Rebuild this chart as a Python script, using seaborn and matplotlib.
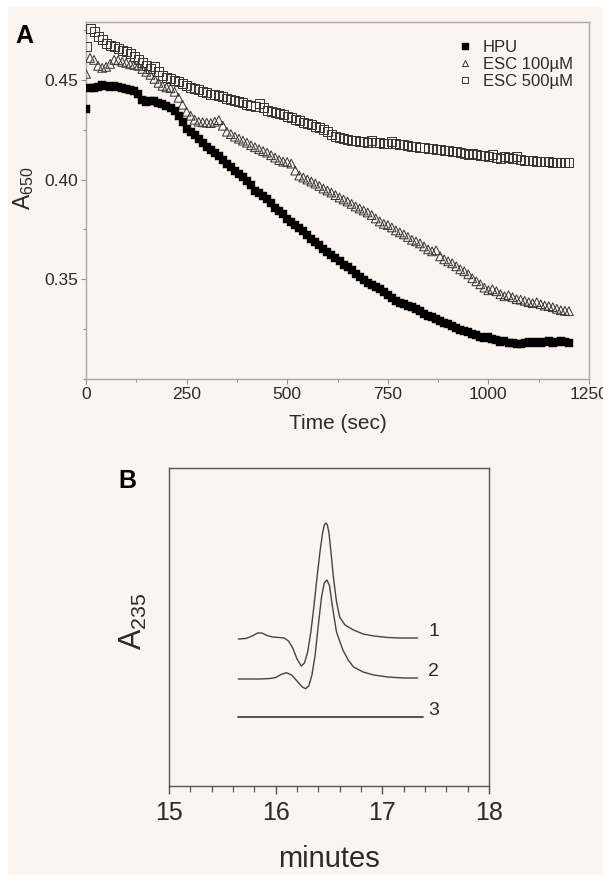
import matplotlib
matplotlib.use("Agg")
import matplotlib.pyplot as plt
from matplotlib.lines import Line2D
from matplotlib.patches import Rectangle
from matplotlib.ticker import MultipleLocator, FormatStrFormatter
import seaborn as sns
import pandas as pd

# ---------------- Panel A data ----------------
time_sec = list(range(0, 1201, 10))

hpu = [0.4355, 0.4458, 0.4460, 0.4462, 0.4475, 0.4470, 0.4465, 0.4468, 0.4462, 0.4458,
       0.4455, 0.4450, 0.4445, 0.4430, 0.4400, 0.4390, 0.4395, 0.4392, 0.4385, 0.4378,
       0.4370, 0.4360, 0.4345, 0.4320, 0.4290, 0.4255, 0.4240, 0.4225, 0.4205, 0.4185,
       0.4165, 0.4150, 0.4135, 0.4120, 0.4100, 0.4080, 0.4062, 0.4045, 0.4030, 0.4015,
       0.3995, 0.3975, 0.3945, 0.3932, 0.3920, 0.3905, 0.3880, 0.3855, 0.3840, 0.3825,
       0.3800, 0.3785, 0.3770, 0.3755, 0.3740, 0.3720, 0.3700, 0.3685, 0.3670, 0.3650,
       0.3635, 0.3620, 0.3605, 0.3590, 0.3570, 0.3560, 0.3545, 0.3528, 0.3510, 0.3495,
       0.3480, 0.3472, 0.3462, 0.3450, 0.3435, 0.3420, 0.3405, 0.3390, 0.3382, 0.3375,
       0.3365, 0.3360, 0.3350, 0.3340, 0.3325, 0.3315, 0.3310, 0.3300, 0.3290, 0.3280,
       0.3275, 0.3265, 0.3258, 0.3245, 0.3240, 0.3235, 0.3225, 0.3220, 0.3210, 0.3205,
       0.3210, 0.3200, 0.3195, 0.3185, 0.3190, 0.3182, 0.3178, 0.3175, 0.3175, 0.3180,
       0.3185, 0.3182, 0.3188, 0.3180, 0.3185, 0.3190, 0.3178, 0.3188, 0.3192, 0.3185,
       0.3183]

esc100 = [0.4530, 0.4610, 0.4600, 0.4570, 0.4560, 0.4565, 0.4580, 0.4600, 0.4598, 0.4590,
          0.4585, 0.4578, 0.4575, 0.4570, 0.4555, 0.4540, 0.4525, 0.4505, 0.4485, 0.4470,
          0.4462, 0.4458, 0.4440, 0.4410, 0.4375, 0.4340, 0.4320, 0.4300, 0.4290, 0.4287,
          0.4285, 0.4283, 0.4290, 0.4298, 0.4270, 0.4240, 0.4228, 0.4215, 0.4205, 0.4195,
          0.4185, 0.4172, 0.4162, 0.4152, 0.4143, 0.4135, 0.4122, 0.4110, 0.4098, 0.4090,
          0.4088, 0.4080, 0.4045, 0.4020, 0.4010, 0.4000, 0.3990, 0.3980, 0.3968, 0.3955,
          0.3945, 0.3935, 0.3922, 0.3910, 0.3900, 0.3890, 0.3878, 0.3865, 0.3855, 0.3845,
          0.3835, 0.3822, 0.3805, 0.3790, 0.3778, 0.3772, 0.3760, 0.3745, 0.3735, 0.3725,
          0.3712, 0.3698, 0.3690, 0.3680, 0.3665, 0.3650, 0.3640, 0.3645, 0.3615, 0.3600,
          0.3590, 0.3580, 0.3565, 0.3550, 0.3540, 0.3525, 0.3505, 0.3490, 0.3475, 0.3458,
          0.3445, 0.3450, 0.3440, 0.3425, 0.3415, 0.3420, 0.3410, 0.3400, 0.3398, 0.3392,
          0.3385, 0.3380, 0.3385, 0.3375, 0.3368, 0.3365, 0.3360, 0.3352, 0.3345, 0.3342,
          0.3340]

esc500 = [0.4665, 0.4755, 0.4740, 0.4715, 0.4700, 0.4680, 0.4672, 0.4668, 0.4655, 0.4645,
          0.4640, 0.4630, 0.4615, 0.4600, 0.4585, 0.4570, 0.4558, 0.4565, 0.4540, 0.4520,
          0.4510, 0.4505, 0.4498, 0.4492, 0.4480, 0.4470, 0.4460, 0.4455, 0.4450, 0.4440,
          0.4435, 0.4428, 0.4425, 0.4420, 0.4415, 0.4408, 0.4400, 0.4395, 0.4390, 0.4385,
          0.4378, 0.4372, 0.4368, 0.4380, 0.4360, 0.4348, 0.4340, 0.4335, 0.4330, 0.4325,
          0.4318, 0.4310, 0.4302, 0.4295, 0.4288, 0.4282, 0.4275, 0.4268, 0.4260, 0.4250,
          0.4240, 0.4225, 0.4215, 0.4210, 0.4205, 0.4200, 0.4198, 0.4195, 0.4192, 0.4190,
          0.4188, 0.4195, 0.4185, 0.4188, 0.4180, 0.4182, 0.4190, 0.4180, 0.4175, 0.4178,
          0.4170, 0.4168, 0.4165, 0.4160, 0.4162, 0.4158, 0.4155, 0.4150, 0.4152, 0.4148,
          0.4145, 0.4140, 0.4142, 0.4138, 0.4130, 0.4128, 0.4132, 0.4125, 0.4120, 0.4122,
          0.4115, 0.4125, 0.4112, 0.4108, 0.4118, 0.4110, 0.4105, 0.4115, 0.4100, 0.4098,
          0.4095, 0.4095, 0.4093, 0.4092, 0.4090, 0.4090, 0.4088, 0.4088, 0.4087, 0.4085,
          0.4085]

legend_labels = ["HPU", "ESC 100\u00b5M", "ESC 500\u00b5M"]
a_xticks = [0, 250, 500, 750, 1000, 1250]
a_yticks = [0.35, 0.40, 0.45]

# ---------------- Panel B data ----------------
min1 = [15.65, 15.72, 15.78, 15.83, 15.87, 15.92, 15.97, 16.03, 16.08, 16.12, 16.16, 16.20,
        16.24, 16.27, 16.30, 16.33, 16.36, 16.39, 16.42, 16.44, 16.455, 16.47, 16.485, 16.50,
        16.52, 16.54, 16.57, 16.60, 16.65, 16.73, 16.82, 16.92, 17.05, 17.17, 17.33]
abs1 = [4.623, 4.638, 4.717, 4.811, 4.811, 4.733, 4.686, 4.670, 4.654, 4.560, 4.340, 3.994,
        3.774, 3.868, 4.214, 4.843, 5.692, 6.635, 7.484, 7.950, 8.200, 8.270, 8.210, 7.950,
        7.300, 6.600, 5.800, 5.314, 5.063, 4.906, 4.780, 4.717, 4.670, 4.654, 4.654]

min2 = [15.65, 15.75, 15.85, 15.95, 16.00, 16.05, 16.10, 16.15, 16.20, 16.25, 16.28, 16.31,
        16.34, 16.37, 16.40, 16.43, 16.455, 16.48, 16.505, 16.53, 16.57, 16.63, 16.68, 16.73,
        16.82, 16.92, 17.05, 17.20, 17.33]
abs2 = [3.365, 3.365, 3.365, 3.381, 3.412, 3.506, 3.563, 3.491, 3.302, 3.113, 3.060, 3.145,
        3.491, 4.119, 5.063, 5.943, 6.380, 6.478, 6.300, 5.692, 4.843, 4.277, 3.962, 3.742,
        3.585, 3.491, 3.428, 3.396, 3.396]

min3 = [15.65, 17.38]
abs3 = [2.179, 2.179]

trace_labels = ["1", "2", "3"]
b_xticks = [15, 16, 17, 18]

# ---------------- Styling ----------------
sns.set_theme(style="ticks")
plt.rcParams["font.family"] = ["Liberation Sans", "DejaVu Sans"]
plt.rcParams["mathtext.fontset"] = "custom"
plt.rcParams["mathtext.rm"] = "Liberation Sans"
plt.rcParams["mathtext.default"] = "regular"

BG = "#fcf4f1"
TXT = "#2a2a2a"

fig = plt.figure(figsize=(6.03, 8.75), dpi=100, facecolor="white")
fig.patches.append(Rectangle((8 / 603, 0), 1 - 8 / 603, 1 - 7 / 875,
                             transform=fig.transFigure, facecolor=BG,
                             edgecolor="none", zorder=-10))

# ---------------- Panel A ----------------
axA = fig.add_axes([86 / 603, 1 - 379 / 875, 503 / 603, 357 / 875])
axA.set_facecolor(BG)

dfA = pd.DataFrame({"t": time_sec, "hpu": hpu, "e100": esc100, "e500": esc500})
sns.scatterplot(data=dfA, x="t", y="e500", ax=axA, marker="s", s=42,
                facecolor="none", edgecolor="#333333", linewidth=0.7, zorder=3)
sns.scatterplot(data=dfA, x="t", y="e100", ax=axA, marker="^", s=40,
                facecolor="none", edgecolor="#333333", linewidth=0.7, zorder=4)
sns.scatterplot(data=dfA, x="t", y="hpu", ax=axA, marker="s", s=34,
                color="black", edgecolor="black", linewidth=0.3, zorder=5)

axA.set_xlim(0, 1250)
axA.set_ylim(0.30, 0.479)
axA.set_xticks(a_xticks)
axA.set_xticklabels([str(v) for v in a_xticks])
axA.xaxis.set_minor_locator(MultipleLocator(125))
axA.set_yticks(a_yticks)
axA.yaxis.set_major_formatter(FormatStrFormatter("%.2f"))
axA.yaxis.set_minor_locator(MultipleLocator(0.025))
for sp in axA.spines.values():
    sp.set_visible(True)
    sp.set_color("#a8a8a8")
    sp.set_linewidth(1.0)
axA.tick_params(axis="both", which="major", direction="out", length=3.5, width=0.8,
                color="#909090", labelsize=12.5, labelcolor=TXT, pad=2)
axA.tick_params(axis="both", which="minor", direction="out", length=2.5, width=0.8,
                color="#909090")
axA.set_xlabel("Time (sec)", fontsize=15, color=TXT, va="center")
axA.xaxis.set_label_coords(0.5, -0.126)
axA.set_ylabel(r"A$_{650}$", fontsize=16.5, color=TXT, va="center", ha="center")
axA.yaxis.set_label_coords(-0.125, 0.535)

handles = [
    Line2D([], [], ls="none", marker="s", ms=4.5, mfc="black", mec="black"),
    Line2D([], [], ls="none", marker="^", ms=5, mfc="none", mec="#333333", mew=0.7),
    Line2D([], [], ls="none", marker="s", ms=5, mfc="none", mec="#333333", mew=0.7),
]
axA.legend(handles, legend_labels, loc="upper left",
           bbox_to_anchor=((458 - 86) / 503, 1 - (40 - 22) / 357),
           frameon=False, fontsize=12, handlelength=0.8, handletextpad=0.7,
           labelspacing=0.12, borderpad=0, borderaxespad=0, labelcolor=TXT)

fig.text(15 / 603, 1 - 24 / 875, "A", fontsize=18, fontweight="bold",
         ha="left", va="top", color="black")

# ---------------- Panel B ----------------
axB = fig.add_axes([169 / 603, 1 - 786 / 875, 320 / 603, 318 / 875])
axB.set_facecolor(BG)

LC = "#444444"
sns.lineplot(x=min1, y=abs1, ax=axB, color=LC, linewidth=1.0, sort=False)
sns.lineplot(x=min2, y=abs2, ax=axB, color=LC, linewidth=1.0, sort=False)
sns.lineplot(x=min3, y=abs3, ax=axB, color=LC, linewidth=1.3, sort=False)

end_levels = [abs1[-1], abs2[-1], abs3[-1]]
for lab, lvl in zip(trace_labels, end_levels):
    axB.text(17.43, lvl + 0.2, lab, fontsize=14, color=TXT, ha="left", va="center")

axB.set_xlim(15, 18)
axB.set_ylim(0, 10)
axB.set_xticks(b_xticks)
axB.set_xticklabels([str(v) for v in b_xticks])
axB.xaxis.set_minor_locator(MultipleLocator(0.2))
axB.set_yticks([])
for sp in axB.spines.values():
    sp.set_visible(True)
    sp.set_color("#555555")
    sp.set_linewidth(1.0)
axB.tick_params(axis="x", which="major", direction="out", length=6, width=1.0,
                color="#555555", labelsize=18, labelcolor=TXT, pad=5)
axB.tick_params(axis="x", which="minor", direction="out", length=4, width=0.9,
                color="#555555")
axB.set_xlabel("minutes", fontsize=21, color=TXT, va="center")
axB.xaxis.set_label_coords(0.5, -0.228)
axB.set_ylabel(r"A$_{235}$", fontsize=22, color=TXT, va="center", ha="center")
axB.yaxis.set_label_coords(-0.1125, 0.519)

fig.text(118 / 603, 1 - 469 / 875, "B", fontsize=18, fontweight="bold",
         ha="left", va="top", color="black")

fig.savefig("out.png", dpi=100, facecolor="white")
